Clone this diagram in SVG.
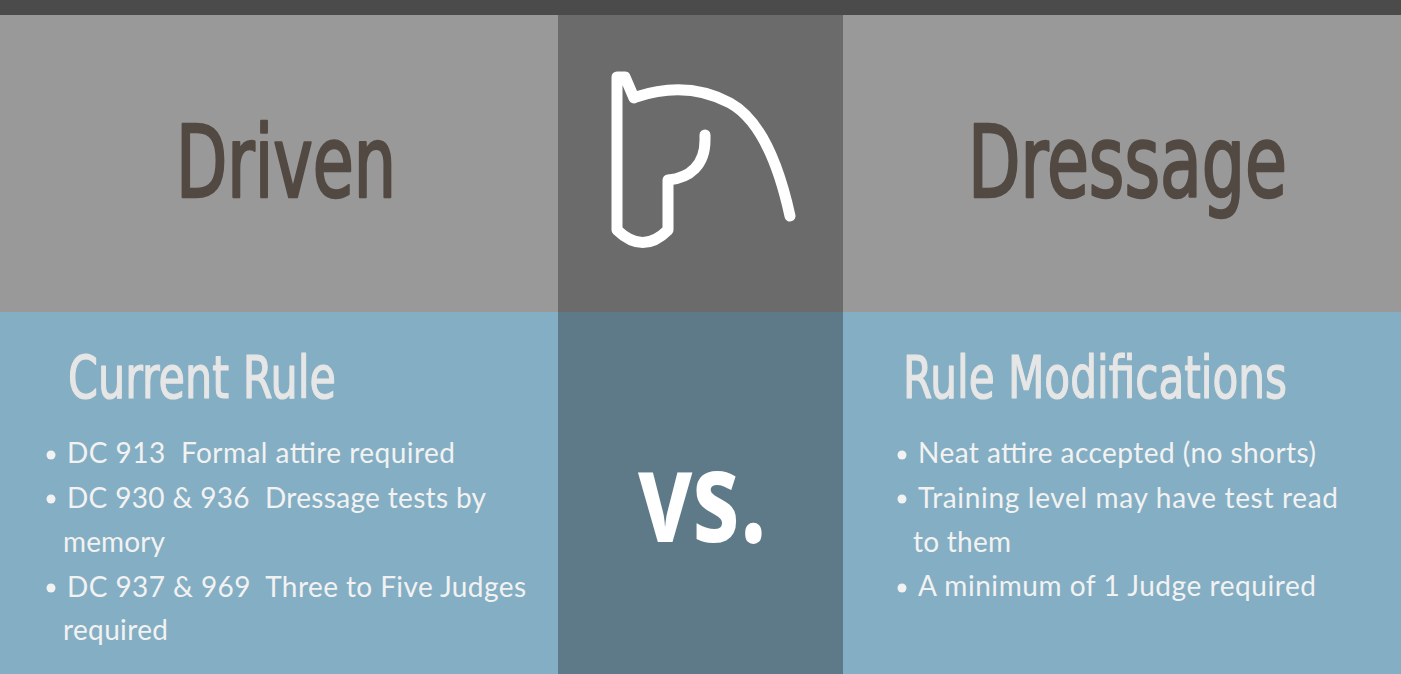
<svg xmlns="http://www.w3.org/2000/svg" width="1401" height="674" viewBox="0 0 1401 674">
<style>
.title{font-family:"DejaVu Sans","Liberation Sans",sans-serif;font-stretch:condensed;fill:#524943;stroke:#524943;stroke-width:2.5px;stroke-linejoin:round;font-size:99px}
.sub{font-family:"DejaVu Sans","Liberation Sans",sans-serif;font-stretch:condensed;fill:#e6e6e6;stroke:#e6e6e6;stroke-width:1.2px;stroke-linejoin:round;font-size:58px}
.body{font-family:Lato,"Liberation Sans",sans-serif;fill:#f2f2f2;font-size:28px;white-space:pre}
.dot{fill:#f2f2f2}
.vs{font-family:"Open Sans","Liberation Sans",sans-serif;font-weight:bold;fill:#ffffff;font-size:128px}
</style>
<g id="background">
<rect x="0" y="0" width="1401" height="674" fill="#84aec3"/>
<rect x="0" y="0" width="1401" height="15" fill="#4b4b4b"/>
<rect x="0" y="15" width="558" height="297" fill="#999999"/>
<rect x="558" y="15" width="285" height="297" fill="#6b6b6b"/>
<rect x="843" y="15" width="558" height="297" fill="#999999"/>
<rect x="558" y="312" width="285" height="362" fill="#5e7a88"/>
</g>
<g id="horse">
<path d="M636,97 Q687,80 730,103 Q770,125 790,216 M705,135 L705,140 C705,165 690,178 668,180 L668,230 Q643,255 617,230 L617,77 L625,77 L634,98" fill="none" stroke="#ffffff" stroke-width="11" stroke-linecap="round" stroke-linejoin="round"/>
</g>
<g id="driven">
<text class="title" x="176" y="197" textLength="220" lengthAdjust="spacingAndGlyphs">Driven</text>
</g>
<g id="dressage">
<text class="title" x="968" y="197" textLength="319" lengthAdjust="spacingAndGlyphs">Dressage</text>
</g>
<g id="vs">
<text class="vs" x="638" y="542" textLength="129" lengthAdjust="spacingAndGlyphs">vs.</text>
</g>
<g id="current-rule">
<text class="sub" x="68" y="398" textLength="268" lengthAdjust="spacingAndGlyphs">Current Rule</text>
<circle class="dot" cx="51" cy="455" r="4.5"/>
<text class="body" x="67" y="463" textLength="388" xml:space="preserve">DC 913  Formal attire required</text>
<circle class="dot" cx="51" cy="499" r="4.5"/>
<text class="body" x="67" y="508" textLength="419" xml:space="preserve">DC 930 &amp; 936  Dressage tests by</text>
<text class="body" x="63" y="552" textLength="102">memory</text>
<circle class="dot" cx="51" cy="588" r="4.5"/>
<text class="body" x="67" y="597" textLength="459" xml:space="preserve">DC 937 &amp; 969  Three to Five Judges</text>
<text class="body" x="63" y="640" textLength="105">required</text>
</g>
<g id="rule-modifications">
<text class="sub" x="903" y="398" textLength="384" lengthAdjust="spacingAndGlyphs">Rule Modifications</text>
<circle class="dot" cx="902" cy="455" r="4.5"/>
<text class="body" x="918" y="463" textLength="398">Neat attire accepted (no shorts)</text>
<circle class="dot" cx="902" cy="499" r="4.5"/>
<text class="body" x="918" y="508" textLength="420">Training level may have test read</text>
<text class="body" x="913" y="552" textLength="98">to them</text>
<circle class="dot" cx="902" cy="588" r="4.5"/>
<text class="body" x="918" y="596" textLength="398">A minimum of 1 Judge required</text>
</g>
</svg>
